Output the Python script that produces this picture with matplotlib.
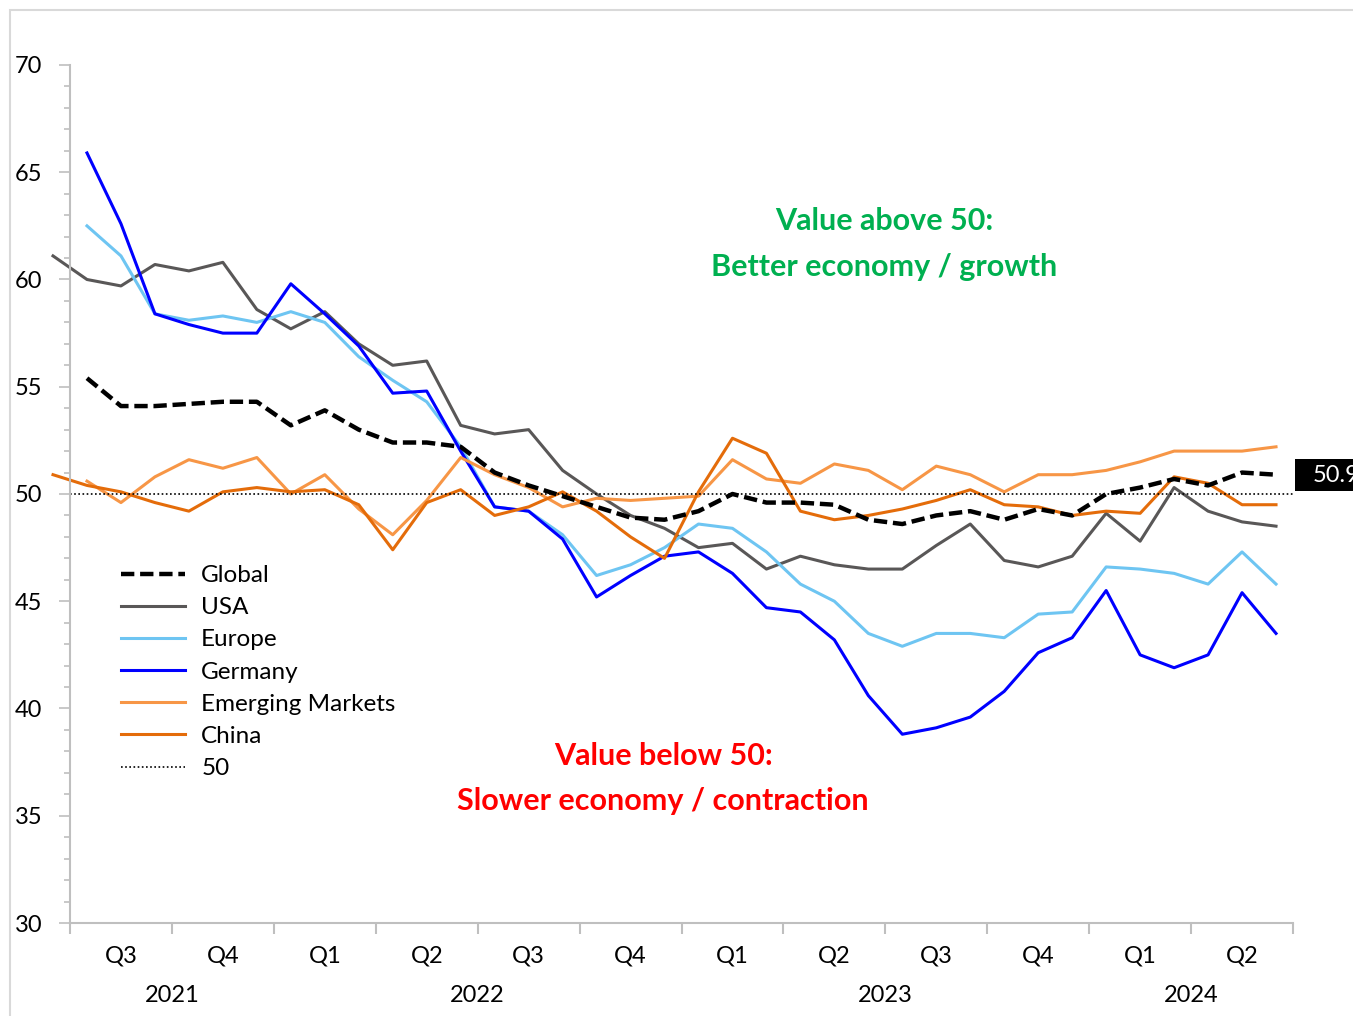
import numpy as np
from matplotlib import pyplot as plt
from matplotlib.patches import Rectangle
from matplotlib import transforms

plt.rcParams['font.family'] = ['Lato', 'DejaVu Sans']

# monthly PMI, Jun 2021 .. Jun 2024 (index 0 = Jun 2021), None = no value
months = np.arange(37)

globalPmi = [None, 55.4, 54.1, 54.1, 54.2, 54.3, 54.3, 53.2, 53.9, 53.0, 52.4, 52.4, 52.2,
             51.0, 50.4, 49.9, 49.4, 48.9, 48.8, 49.2, 50.0, 49.6, 49.6, 49.5, 48.8,
             48.6, 49.0, 49.2, 48.8, 49.3, 49.0, 50.0, 50.3, 50.7, 50.4, 51.0, 50.9]
usaPmi = [61.1, 60.0, 59.7, 60.7, 60.4, 60.8, 58.6, 57.7, 58.5, 57.0, 56.0, 56.2, 53.2,
          52.8, 53.0, 51.1, 50.0, 49.0, 48.4, 47.5, 47.7, 46.5, 47.1, 46.7, 46.5,
          46.5, 47.6, 48.6, 46.9, 46.6, 47.1, 49.1, 47.8, 50.3, 49.2, 48.7, 48.5]
europePmi = [None, 62.5, 61.1, 58.4, 58.1, 58.3, 58.0, 58.5, 58.0, 56.4, 55.3, 54.3, 52.2,
             49.4, 49.2, 48.1, 46.2, 46.7, 47.5, 48.6, 48.4, 47.3, 45.8, 45.0, 43.5,
             42.9, 43.5, 43.5, 43.3, 44.4, 44.5, 46.6, 46.5, 46.3, 45.8, 47.3, 45.8]
germanyPmi = [None, 65.9, 62.6, 58.4, 57.9, 57.5, 57.5, 59.8, 58.4, 56.9, 54.7, 54.8, 52.0,
              49.4, 49.2, 47.9, 45.2, 46.2, 47.1, 47.3, 46.3, 44.7, 44.5, 43.2, 40.6,
              38.8, 39.1, 39.6, 40.8, 42.6, 43.3, 45.5, 42.5, 41.9, 42.5, 45.4, 43.5]
emPmi = [None, 50.6, 49.6, 50.8, 51.6, 51.2, 51.7, 50.0, 50.9, 49.3, 48.1, 49.7, 51.7,
         50.9, 50.3, 49.4, 49.8, 49.7, 49.8, 49.9, 51.6, 50.7, 50.5, 51.4, 51.1,
         50.2, 51.3, 50.9, 50.1, 50.9, 50.9, 51.1, 51.5, 52.0, 52.0, 52.0, 52.2]
chinaPmi = [50.9, 50.4, 50.1, 49.6, 49.2, 50.1, 50.3, 50.1, 50.2, 49.5, 47.4, 49.6, 50.2,
            49.0, 49.4, 50.1, 49.2, 48.0, 47.0, 50.1, 52.6, 51.9, 49.2, 48.8, 49.0,
            49.3, 49.7, 50.2, 49.5, 49.4, 49.0, 49.2, 49.1, 50.8, 50.5, 49.5, 49.5]

quarterLabels = ['Q3', 'Q4', 'Q1', 'Q2', 'Q3', 'Q4', 'Q1', 'Q2', 'Q3', 'Q4', 'Q1', 'Q2']
quarterCenters = [2, 5, 8, 11, 14, 17, 20, 23, 26, 29, 32, 35]
quarterEdges = [0.5, 3.5, 6.5, 9.5, 12.5, 15.5, 18.5, 21.5, 24.5, 27.5, 30.5, 33.5, 36.5]
yearLabels = ['2021', '2022', '2023', '2024']
yearCenters = [3.5, 12.5, 24.5, 33.5]


def arr(values):
    return np.array([np.nan if v is None else v for v in values], dtype=float)


fig = plt.figure(figsize=(13.53, 10.16), dpi=100)
ax = fig.add_axes([70 / 1353, 93 / 1016, 1223 / 1353, 858 / 1016])

# series, drawn so that early months may sit left of the axis like the original
ax.plot(months, arr(usaPmi), color='#595757', lw=2.2, label='USA', clip_on=False)
ax.plot(months, arr(europePmi), color='#6EC5F2', lw=2.2, label='Europe', clip_on=False)
ax.plot(months, arr(germanyPmi), color='#0000FF', lw=2.2, label='Germany', clip_on=False)
ax.plot(months, arr(emPmi), color='#F79646', lw=2.2, label='Emerging Markets', clip_on=False)
ax.plot(months, arr(chinaPmi), color='#E46C0A', lw=2.2, label='China', clip_on=False)
ax.plot(months, arr(globalPmi), color='black', lw=3.2, ls=(0, (3, 1.3)), label='Global', clip_on=False)
ax.axhline(50, color='black', lw=1.2, ls=(0, (1, 1.5)), label='50')

ax.set_xlim(0.5, 36.5)
ax.set_ylim(30, 70)

# axes look
for side in ['top', 'right']:
    ax.spines[side].set_visible(False)
for side in ['left', 'bottom']:
    ax.spines[side].set_color('#BFBFBF')
    ax.spines[side].set_linewidth(1.5)

ax.set_yticks(np.arange(30, 71, 5))
ax.set_yticks(np.arange(30, 71, 1), minor=True)
ax.tick_params(axis='y', which='major', length=8, width=1.2, color='#BFBFBF', labelsize=17, pad=12)
ax.tick_params(axis='y', which='minor', length=4, width=1.2, color='#BFBFBF')

ax.set_xticks(quarterEdges)
ax.set_xticklabels([])
ax.set_xticks(quarterCenters, minor=True)
ax.set_xticklabels(quarterLabels, minor=True)
ax.tick_params(axis='x', which='major', length=8, width=1.5, color='#BFBFBF')
ax.tick_params(axis='x', which='minor', length=0, labelsize=17, pad=16)

for lab, xc in zip(yearLabels, yearCenters):
    ax.text(xc, -0.085, lab, transform=ax.get_xaxis_transform(), ha='center', va='center', fontsize=17)

# legend
handles, labels = ax.get_legend_handles_labels()
order = ['Global', 'USA', 'Europe', 'Germany', 'Emerging Markets', 'China', '50']
hmap = dict(zip(labels, handles))
ax.legend([hmap[k] for k in order], order, loc='upper left',
          bbox_to_anchor=(121 / 1353, 1 - 565 / 1016), bbox_transform=fig.transFigure,
          frameon=False, fontsize=17.5, handlelength=2.65, handletextpad=0.65,
          labelspacing=0.46, borderpad=0, borderaxespad=0)

# annotations
ax.text(24.46, 62.73, 'Value above 50:', color='#00B050', fontsize=22, fontweight='bold', ha='center', va='center')
ax.text(24.46, 60.58, 'Better economy / growth', color='#00B050', fontsize=22, fontweight='bold', ha='center', va='center')
ax.text(17.96, 37.79, 'Value below 50:', color='#FF0000', fontsize=22, fontweight='bold', ha='center', va='center')
ax.text(17.96, 35.69, 'Slower economy / contraction', color='#FF0000', fontsize=22, fontweight='bold', ha='center', va='center')

# last value box for Global (cut by the right edge, as in the original)
lastVal = arr(globalPmi)[-1]
trans = transforms.blended_transform_factory(ax.transAxes, ax.transData)
ax.add_patch(Rectangle((1.0016, lastVal - 0.78), 0.1, 1.5, transform=trans,
                       facecolor='black', edgecolor='none', clip_on=False))
ax.text(1.0163, lastVal - 0.03, '{:.1f}'.format(lastVal), transform=trans, color='white',
        fontsize=17, ha='left', va='center')

# thin border around chart area
fig.add_artist(Rectangle((10 / 1353, -0.1), 1.2, 1.1 - 10 / 1016, transform=fig.transFigure,
                         facecolor='none', edgecolor='#D9D9D9', lw=1.5))

plt.savefig('out.png', dpi=100)
